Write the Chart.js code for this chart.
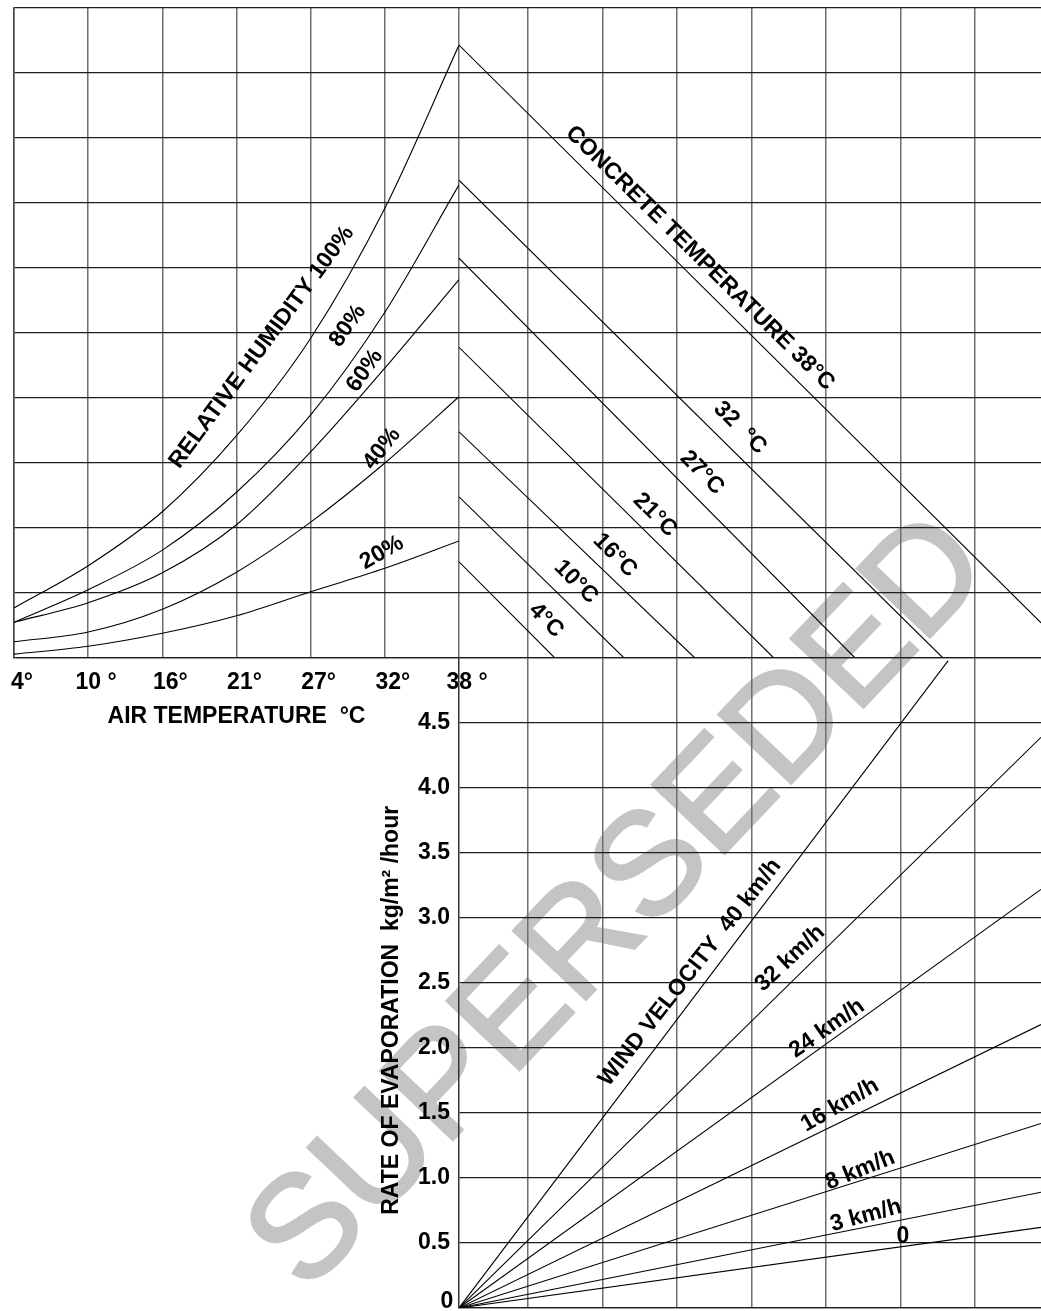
<!DOCTYPE html>
<html><head><meta charset="utf-8">
<script src="https://cdn.jsdelivr.net/npm/chart.js@4.4.1/dist/chart.umd.min.js"></script>
<style>
html,body{margin:0;padding:0;background:#fff;width:1041px;height:1311px;overflow:hidden;position:relative;}
canvas{position:absolute;z-index:1;}
#wm{position:absolute;left:614px;top:898px;transform:translate(-50%,-50%) rotate(-46.5deg);font:normal 145px "Liberation Sans",Arial,sans-serif;color:#c4c4c4;-webkit-text-stroke:3px #c4c4c4;white-space:nowrap;line-height:1;z-index:0;}
</style></head><body>
<div id="wm">SUPERSEDED</div>
<canvas id="cA" width="540" height="740" style="left:-20px;top:0"></canvas>
<canvas id="cB" width="582" height="660" style="left:459px;top:0"></canvas>
<canvas id="cC" width="691" height="720" style="left:350px;top:620px"></canvas>
<script>
// ---------- data ----------
// Air temperature axis (grid evenly spaced in °F, labelled in °C)
const airTempF = [40, 50, 60, 70, 80, 90, 100];
const airTempLabels = ['4°', '10 °', '16°', '21°', '27°', '32°', '38 °'];

// Relative humidity curves (chart units, top panel)
const rhLabels = ['100%', '80%', '60%', '40%', '20%'];
const rh100 = [0.77, 1.42, 2.25, 3.42, 4.92, 6.92, 9.43];
const rh80  = [0.55, 1.05, 1.66, 2.55, 3.74, 5.32, 7.28];
const rh60  = [0.55, 0.85, 1.31, 2.05, 3.17, 4.46, 5.82];
const rh40  = [0.25, 0.40, 0.75, 1.32, 2.09, 3.00, 4.02];
const rh20  = [0.06, 0.18, 0.38, 0.65, 1.02, 1.38, 1.80];

// Concrete temperature lines (°C), start value at left edge, end point
const concreteTemps = ['38', '32', '27', '21', '16', '10', '4'];
const concreteStartV = [9.43, 7.35, 6.15, 4.78, 3.48, 2.48, 1.48];
const concreteEndX   = [178.86, 165.7, 153.9, 143.0, 132.4, 122.9, 113.6];
const concreteEndV   = [0.54, 0, 0, 0, 0, 0, 0];

// Wind velocity lines: end points (rate of evaporation kg/m²/hour)
const windLabels = ['40 km/h', '32 km/h', '24 km/h', '16 km/h', '8 km/h', '3 km/h', '0'];
const windEndX    = [166.4, 178.86, 178.86, 178.86, 178.86, 178.86, 178.86];
const windEndRate = [4.98, 4.39, 3.22, 2.18, 1.42, 0.89, 0.62];

// Rate of evaporation tick labels
const rateTicks = [0, 0.5, 1.0, 1.5, 2.0, 2.5, 3.0, 3.5, 4.0, 4.5];

// ---------- scale settings ----------
const RX_MIN = 100.74, RX_MAX = 178.86;
const FONT = '"Liberation Sans", Arial, sans-serif';
const FS = 23;
Chart.defaults.font.family = FONT;
Chart.defaults.color = '#000';

const VGRID = {color: '#6e6e6e', lineWidth: 1.5, drawTicks: false};
const HGRID = {color: '#1e1e1e', lineWidth: 1.3, drawTicks: false};

// ---------- text annotations (data coordinates) ----------
const annotA = [
  {text: 'RELATIVE HUMIDITY 100%', x: 73.4, y: 4.78, angle: -53.5},
  {text: '80%', x: 85.0, y: 5.11, angle: -55},
  {text: '60%', x: 87.3, y: 4.42, angle: -55},
  {text: '40%', x: 89.6, y: 3.22, angle: -52},
  {text: '20%', x: 89.6, y: 1.62, angle: -30}
];
const annotB = [
  {text: 'CONCRETE TEMPERATURE 38°C', x: 133.09, y: 6.15, angle: 44.5},
  {text: '32  °C', x: 138.46, y: 3.54, angle: 45},
  {text: '27°C', x: 133.36, y: 2.85, angle: 45},
  {text: '21°C', x: 127.05, y: 2.20, angle: 45},
  {text: '16°C', x: 121.68, y: 1.58, angle: 45},
  {text: '10°C', x: 116.44, y: 1.17, angle: 45},
  {text: '4°C', x: 112.42, y: 0.58, angle: 45}
];
const annotC = [
  {text: 'WIND VELOCITY  40 km/h', x: 131.75, y: 2.58, angle: -52},
  {text: '32 km/h', x: 145.17, y: 2.69, angle: -43},
  {text: '24 km/h', x: 150.14, y: 2.15, angle: -35},
  {text: '16 km/h', x: 151.88, y: 1.56, angle: -30},
  {text: '8 km/h', x: 154.57, y: 1.06, angle: -22},
  {text: '3 km/h', x: 155.37, y: 0.71, angle: -15},
  {text: '0', x: 160.33, y: 0.55, angle: 0},
  {text: '0', x: 99.13, y: 0.05, angle: 0},
  {text: 'RATE OF EVAPORATION  kg/m² /hour', x: 91.75, y: 2.29, angle: -90}
];

function textPlugin(items) {
  return {
    id: 'txt',
    afterDatasetsDraw(chart) {
      const {ctx} = chart;
      const xs = chart.scales.x, ys = chart.scales.y;
      items.forEach(it => {
        ctx.save();
        ctx.translate(xs.getPixelForValue(it.x), ys.getPixelForValue(it.y));
        ctx.rotate(it.angle * Math.PI / 180);
        ctx.font = 'bold ' + FS + 'px ' + FONT;
        ctx.fillStyle = '#000';
        ctx.textAlign = 'center';
        ctx.textBaseline = 'middle';
        ctx.fillText(it.text, 0, 0);
        ctx.restore();
      });
    }
  };
}

const common = {
  responsive: false, animation: false, devicePixelRatio: 1,
  plugins: {legend: {display: false}, tooltip: {enabled: false}}
};
const lineStyle = {showLine: true, borderColor: '#000', borderWidth: 1.1, pointRadius: 0, fill: false};

// ---------- Chart A: air temperature & relative humidity ----------
const rhSeries = [rh100, rh80, rh60, rh40, rh20];
new Chart(document.getElementById('cA'), {
  type: 'scatter',
  data: {
    datasets: rhSeries.map((vals, i) => Object.assign({
      label: rhLabels[i],
      data: airTempF.map((x, j) => ({x: x, y: vals[j]})),
      cubicInterpolationMode: 'monotone'
    }, lineStyle))
  },
  options: Object.assign({}, common, {
    layout: {padding: {top: 8, right: 61, left: 0, bottom: 0}},
    scales: {
      x: {
        type: 'linear', min: 40, max: 100,
        afterFit: s => { s.height = 82; },
        ticks: {
          stepSize: 10, maxRotation: 0, autoSkip: false, padding: 11, labelOffset: 8,
          font: {size: FS, weight: 'bold'},
          callback: v => { const i = airTempF.indexOf(v); return i < 0 ? '' : airTempLabels[i]; }
        },
        grid: VGRID,
        border: {color: '#1e1e1e', width: 1.3},
        title: {display: true, text: 'AIR TEMPERATURE  °C', font: {size: FS, weight: 'bold'}, padding: {top: 0, bottom: 10}}
      },
      y: {
        type: 'linear', min: 0, max: 10,
        afterFit: s => { s.width = 34; },
        ticks: {display: false, stepSize: 1},
        grid: HGRID,
        border: {color: '#444', width: 1.5}
      }
    }
  }),
  plugins: [textPlugin(annotA)]
});

// ---------- Chart B: concrete temperature ----------
new Chart(document.getElementById('cB'), {
  type: 'scatter',
  data: {
    datasets: concreteTemps.map((t, i) => Object.assign({
      label: t + ' °C',
      data: [{x: RX_MIN, y: concreteStartV[i]}, {x: concreteEndX[i], y: concreteEndV[i]}]
    }, lineStyle))
  },
  options: Object.assign({}, common, {
    layout: {padding: {top: 8, right: 0, left: 0, bottom: 0}},
    scales: {
      x: {
        type: 'linear', min: RX_MIN, max: RX_MAX,
        afterFit: s => { s.height = 2; },
        ticks: {display: false, stepSize: 10, includeBounds: false},
        grid: VGRID,
        border: {display: false}
      },
      y: {
        type: 'linear', min: 0, max: 10,
        afterFit: s => { s.width = 0; },
        ticks: {display: false, stepSize: 1},
        grid: HGRID,
        border: {display: false}
      }
    }
  }),
  plugins: [textPlugin(annotB)]
});

// ---------- Chart C: rate of evaporation / wind velocity ----------
new Chart(document.getElementById('cC'), {
  type: 'scatter',
  data: {
    datasets: windLabels.map((w, i) => Object.assign({
      label: w,
      data: [{x: RX_MIN, y: 0}, {x: windEndX[i], y: windEndRate[i]}]
    }, lineStyle))
  },
  options: Object.assign({}, common, {
    layout: {padding: {top: 38, right: 0, left: 0, bottom: 0}},
    scales: {
      x: {
        type: 'linear', min: RX_MIN, max: RX_MAX,
        afterFit: s => { s.height = 32; },
        ticks: {display: false, stepSize: 10, includeBounds: false},
        grid: VGRID,
        border: {color: '#1e1e1e', width: 1.3}
      },
      y: {
        type: 'linear', min: 0, max: 5,
        afterFit: s => { s.width = 109; },
        ticks: {
          stepSize: 0.5, padding: 9, font: {size: FS, weight: 'bold'},
          callback: v => (v > 0 && rateTicks.indexOf(v) >= 0) ? v.toFixed(1) : ''
        },
        grid: HGRID,
        border: {color: '#333', width: 1.5}
      }
    }
  }),
  plugins: [textPlugin(annotC)]
});
</script>
</body></html>
